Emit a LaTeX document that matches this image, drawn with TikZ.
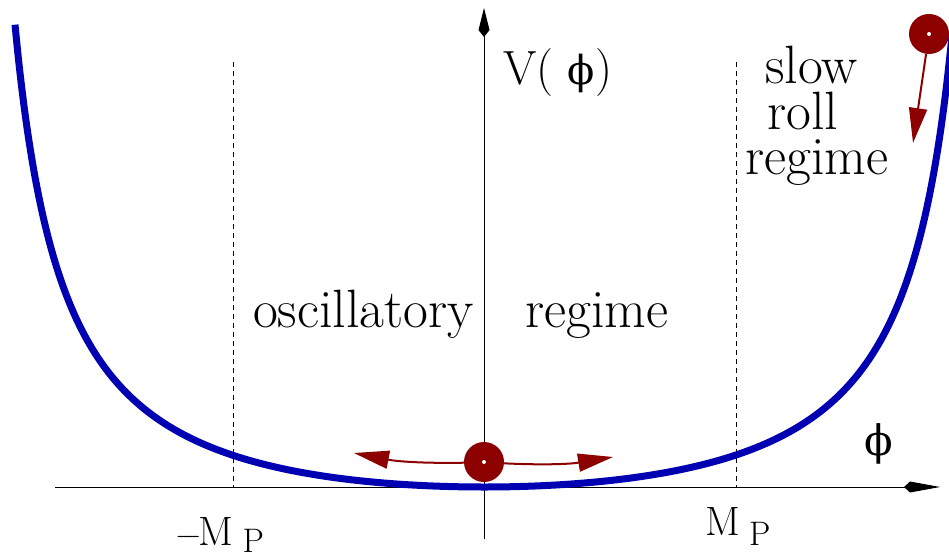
\documentclass[tikz,border=0pt]{standalone}
\usepackage{fontspec}
\newfontfamily\grk{DejaVu Serif}
\usetikzlibrary{arrows.meta}
\definecolor{curveblue}{RGB}{0,0,178}
\definecolor{ballred}{RGB}{140,0,0}
\begin{document}
\begin{tikzpicture}[x=1pt,y=-1pt,
  axisline/.style={line width=1pt, black},
  guide/.style={line width=0.8pt, dash pattern=on 5pt off 4pt},
  pot/.style={line width=7pt, curveblue},
  ball/.style={circle, fill=ballred, minimum size=40pt, inner sep=0pt},
  motion/.style={line width=2pt, ballred, -{Triangle[length=35pt,width=18pt]}},
  lbl/.style={font=\fontsize{54}{64}\selectfont, inner sep=0pt},
  mlbl/.style={font=\fontsize{41}{50}\selectfont, inner sep=0pt}]
\useasboundingbox (0,0) rectangle (949,553);
\clip (0,0) rectangle (949,553);
% axes
\coordinate (xl) at (55,487);
\coordinate (xr) at (940,487);
\coordinate (yb) at (484,539);
\coordinate (yt) at (484,8);
\draw[axisline, -{Kite[length=36pt,width=11pt,inset=6pt]}] (xl) -- (xr);
\draw[axisline, -{Kite[length=29pt,width=11pt,inset=7pt]}] (yb) -- (yt);
% dashed guides
\coordinate (gl1) at (233,62);
\coordinate (gl2) at (233,487);
\coordinate (gr1) at (736,62);
\coordinate (gr2) at (736,487);
\draw[guide] (gl1) -- (gl2);
\draw[guide] (gr1) -- (gr2);
% potential
\draw[pot] plot[domain=-469:476, samples=300, variable=\t, smooth]
  ({484+\t},{487-84*(sec(0.17303*\t)-1)});
% balls and arrows
\node[ball] (b0) at (484,462) {};
\fill[white] (b0.center) circle (2pt);
\coordinate (lt) at (354,453);
\coordinate (rt) at (613,457);
\draw[motion] (b0) to[bend left=6] (lt);
\draw[motion] (b0) to[bend right=6] (rt);
\node[ball] (b1) at (929,34) {};
\fill[white] (b1.center) circle (2pt);
\coordinate (tp) at (913,143);
\draw[motion] (b1) -- (tp);
% labels
\node[font=\fontsize{48}{58}\selectfont, inner sep=0pt, anchor=base west] (V) at (503,85) {V( {\grk\fontsize{40}{48}\selectfont ϕ})};
\node[anchor=base, inner sep=0pt, font=\grk\fontsize{42}{50}\selectfont] (phi) at (879,455) {ϕ};
\node[lbl, anchor=base west] (osc) at (253,327) {oscillatory};
\node[lbl, anchor=base west] (reg) at (525,327) {regime};
\node[lbl, anchor=base west] (slow) at (765,84) {slow};
\node[lbl, anchor=base west] (roll) at (767,130) {roll};
\node[lbl, anchor=base west] (reg2) at (745,175) {regime};
\node[mlbl, anchor=base west] (mpl) at (176,545) {{\fontsize{34}{40}\selectfont\symbol{"2212}}\hspace{-2pt}M\hspace{9pt}\raisebox{-7pt}{\fontsize{34}{40}\selectfont P}};
\node[mlbl, anchor=base west] (mpr) at (705,535) {M\hspace{9pt}\raisebox{-10pt}{\fontsize{34}{40}\selectfont P}};
\end{tikzpicture}
\end{document}
